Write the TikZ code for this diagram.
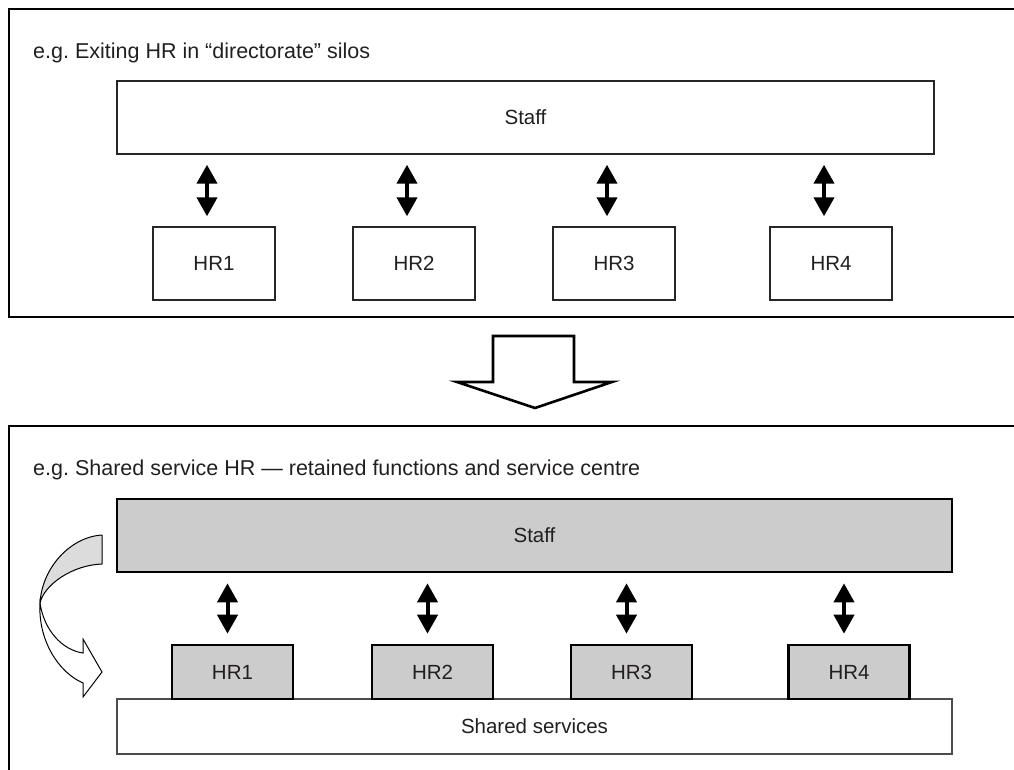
\documentclass[tikz,border=0pt]{standalone}
\usepackage{fontspec}
\setmainfont{Liberation Sans}
\usetikzlibrary{arrows.meta,calc}
\frenchspacing
\definecolor{txt}{HTML}{231F20}
\definecolor{boxgray}{HTML}{CCCCCC}
\definecolor{ribbon}{HTML}{DCDCDC}
\tikzset{
  frame/.style={draw=black,line width=2.8pt},
  titletext/.style={anchor=base west,inner sep=0pt,text=txt,font=\fontsize{21.5}{24}\selectfont},
  whitebox/.style={draw=black!85,line width=1.4pt,fill=white,text=txt,font=\fontsize{20.5}{24}\selectfont,inner sep=0pt},
  graybox/.style={draw=black,line width=2.6pt,fill=boxgray,text=txt,font=\fontsize{20.5}{24}\selectfont,inner sep=0pt},
  sharedbox/.style={draw=black!70,line width=1.4pt,fill=white,text=txt,font=\fontsize{20.5}{24}\selectfont,inner sep=0pt},
  dbl/.style={line width=4pt,{Triangle[width=20pt,length=19pt]}-{Triangle[width=20pt,length=19pt]}},
  bigarrow/.style={draw=black,line width=2.6pt,fill=white,line join=miter},
}
\begin{document}
\begin{tikzpicture}[x=1pt,y=-1pt]
\useasboundingbox (0,0) rectangle (1014,769);
\begin{scope}
\clip (0,0) rectangle (1014,769);
% frames
\draw[frame] (9,9) rectangle (1040,317);
\draw[frame] (9,426) rectangle (1040,800);
\end{scope}

% ---------- top panel ----------
\node[titletext] (titleA) at (33,58) {e.g. Exiting HR in “directorate” silos};
\node[whitebox,minimum width=817pt,minimum height=73pt] (staffA) at (525.5,117.5) {Staff};
\node[whitebox,minimum width=122pt,minimum height=73pt] (hrA1) at (214,263.5) {HR1};
\node[whitebox,minimum width=122pt,minimum height=73pt] (hrA2) at (414,263.5) {HR2};
\node[whitebox,minimum width=122pt,minimum height=73pt] (hrA3) at (614,263.5) {HR3};
\node[whitebox,minimum width=122pt,minimum height=73pt] (hrA4) at (831,263.5) {HR4};
\foreach \i in {1,2,3,4}{
  \draw[dbl] ($(hrA\i.north |- staffA.south)+(-7,10)$) -- ($(hrA\i.north)+(-7,-10)$);
}

% ---------- transition arrow ----------
\draw[bigarrow] (493,336) -- (574,336) -- (574,382) -- (612,382) -- (535,408) -- (457,382) -- (493,382) -- cycle;

% ---------- bottom panel ----------
\node[titletext] (titleB) at (33,475) {e.g. Shared service HR — retained functions and service centre};
\node[sharedbox,minimum width=835pt,minimum height=55pt] (shared) at (534.5,726.5) {Shared services};
\node[graybox,minimum width=835pt,minimum height=73pt] (staffB) at (534.5,535.5) {Staff};
\node[graybox,minimum width=121pt,minimum height=54pt] (hrB1) at (232.5,672) {HR1};
\node[graybox,minimum width=121pt,minimum height=54pt] (hrB2) at (432.5,672) {HR2};
\node[graybox,minimum width=121pt,minimum height=54pt] (hrB3) at (631.5,672) {HR3};
\node[graybox,minimum width=121pt,minimum height=54pt] (hrB4) at (849,672) {HR4};
\foreach \i in {1,2,3,4}{
  \draw[dbl] ($(hrB\i.north |- staffB.south)+(-5,10)$) -- ($(hrB\i.north)+(-5,-10)$);
}

% curved twisted arrow
\draw[line width=1pt,fill=ribbon,line join=round]
  (102,535) .. controls (70,537) and (42,568) .. (40,603)
  .. controls (44,585) and (72,565) .. (102,564) -- cycle;
\draw[line width=1pt,fill=white,line join=miter]
  (40,603) .. controls (44,630) and (62,650) .. (83,653)
  -- (83,639) -- (102,672) -- (83,697) -- (83,683)
  .. controls (58,672) and (38,640) .. (40,603) -- cycle;
\end{tikzpicture}
\end{document}
